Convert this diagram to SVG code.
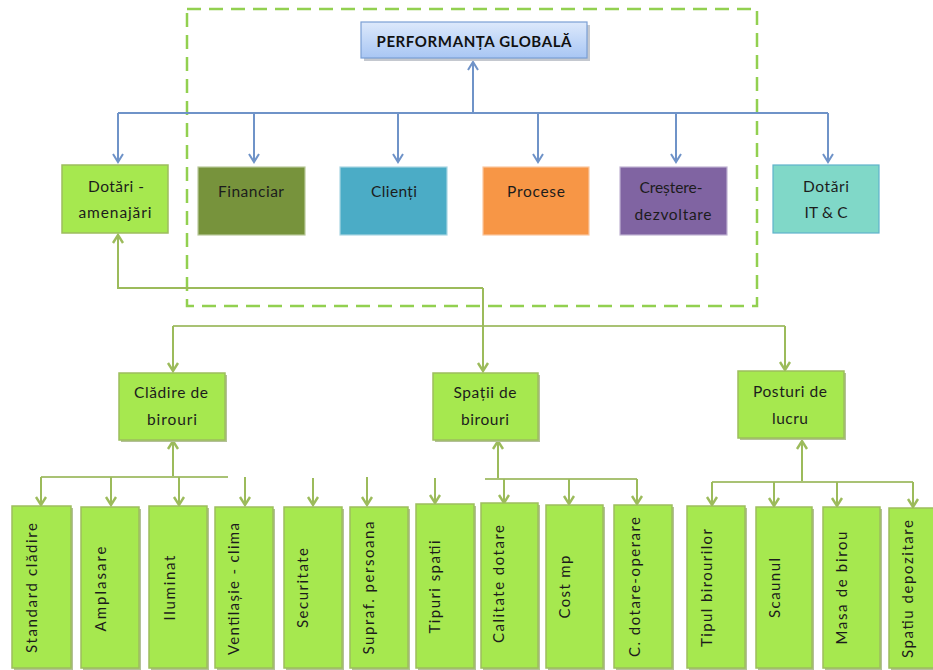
<svg xmlns="http://www.w3.org/2000/svg" width="933" height="670" viewBox="0 0 933 670">
  <style>
    text { font-family: Lato, "Open Sans", "Liberation Sans", sans-serif; fill: #1c1c1c; }
    .t15 { font-size: 15.5px; text-anchor: middle; }
    .t14 { font-size: 15px; text-anchor: middle; }
    .title { font-size: 15px; font-weight: bold; text-anchor: middle; fill: #111; }
    .lime { fill: #a6e84f; stroke: #9dbd5e; stroke-width: 1.5; }
    .shade { fill: #b3c197; }
    .frame { fill: none; stroke: #92d050; stroke-width: 2.5; stroke-dasharray: 14 8; }
    .blue { fill: none; stroke: #6f93c8; stroke-width: 2; marker-end: url(#arrBlue); }
    .blueLine { fill: none; stroke: #6f93c8; stroke-width: 2; }
    .green { fill: none; stroke: #9cbb5b; stroke-width: 2; marker-end: url(#arrGreen); }
    .greenLine { fill: none; stroke: #a9c274; stroke-width: 2; }
  </style>
  <defs>
    <linearGradient id="titleFill" x1="0" y1="0" x2="0" y2="1">
      <stop offset="0" stop-color="#dde9fb"/>
      <stop offset="1" stop-color="#a8c6f4"/>
    </linearGradient>
    <marker id="arrBlue" markerUnits="userSpaceOnUse" markerWidth="14" markerHeight="14" refX="0" refY="0" viewBox="-10 -7 12 14" orient="auto">
      <path d="M-8,-5 L0,0 L-8,5" fill="none" stroke="#6f93c8" stroke-width="2"/>
    </marker>
    <marker id="arrGreen" markerUnits="userSpaceOnUse" markerWidth="14" markerHeight="14" refX="0" refY="0" viewBox="-10 -7 12 14" orient="auto">
      <path d="M-8,-5 L0,0 L-8,5" fill="none" stroke="#9cbb5b" stroke-width="2.4"/>
    </marker>
  </defs>

  <rect width="933" height="670" fill="#ffffff"/>

  <!-- dashed frame round the strategic perspectives -->
  <rect class="frame" x="187" y="9" width="570" height="297"/>

  <!-- connectors -->
  <g id="connectors">
    <!-- blue: perspectives up to the global performance -->
    <line class="blueLine" x1="118" y1="113" x2="828" y2="113"/>
    <line class="blue" x1="473" y1="113" x2="473" y2="62"/>
    <line class="blue" x1="118" y1="113" x2="118" y2="162"/>
    <line class="blue" x1="254" y1="113" x2="254" y2="162"/>
    <line class="blue" x1="398" y1="113" x2="398" y2="162"/>
    <line class="blue" x1="538" y1="113" x2="538" y2="162"/>
    <line class="blue" x1="676" y1="113" x2="676" y2="162"/>
    <line class="blue" x1="828" y1="113" x2="828" y2="162"/>

    <!-- green: office facilities tree -->
    <path class="green" d="M483,288 L118,288 L118,235"/>
    <line class="greenLine" x1="173" y1="326" x2="785" y2="326"/>
    <line class="green" x1="483" y1="288" x2="483" y2="371"/>
    <line class="green" x1="173" y1="326" x2="173" y2="371"/>
    <line class="green" x1="785" y1="326" x2="785" y2="370"/>

    <!-- office building branch -->
    <line class="green" x1="173" y1="477" x2="173" y2="441"/>
    <line class="greenLine" x1="41" y1="477" x2="228" y2="477"/>
    <line class="green" x1="41" y1="477" x2="41" y2="505"/>
    <line class="green" x1="111" y1="477" x2="111" y2="505"/>
    <line class="green" x1="179" y1="477" x2="179" y2="505"/>
    <line class="green" x1="245" y1="477" x2="245" y2="505"/>
    <line class="green" x1="313" y1="478" x2="313" y2="505"/>
    <line class="green" x1="367" y1="477" x2="367" y2="505"/>
    <line class="green" x1="435" y1="478" x2="435" y2="503"/>

    <!-- office space branch -->
    <line class="green" x1="498" y1="479" x2="498" y2="441"/>
    <line class="greenLine" x1="485" y1="479" x2="637" y2="479"/>
    <line class="green" x1="504" y1="479" x2="504" y2="503"/>
    <line class="green" x1="569" y1="479" x2="569" y2="504"/>
    <line class="green" x1="637" y1="479" x2="637" y2="504"/>

    <!-- workstation branch -->
    <line class="green" x1="802" y1="482" x2="802" y2="441"/>
    <line class="greenLine" x1="712" y1="482" x2="913" y2="482"/>
    <line class="green" x1="712" y1="482" x2="712" y2="505"/>
    <line class="green" x1="774" y1="482" x2="774" y2="506"/>
    <line class="green" x1="837" y1="482" x2="837" y2="506"/>
    <line class="green" x1="913" y1="482" x2="913" y2="507"/>
  </g>

  <!-- global performance -->
  <g id="performanta">
    <rect x="364" y="25" width="226" height="36" fill="#c4c8cf"/>
    <rect x="361" y="22" width="226" height="36" fill="url(#titleFill)" stroke="#7b9fd4" stroke-width="1.2"/>
    <text class="title" x="474" y="47" textLength="195">PERFORMANȚA GLOBALĂ</text>
  </g>

  <!-- perspectives -->
  <g id="dotari-amenajari">
    <rect class="lime" x="62" y="165" width="106" height="68"/>
    <text class="t15" x="116" y="192" textLength="56">Dotări -</text>
    <text class="t15" x="115" y="218" textLength="73">amenajări</text>
  </g>
  <g id="financiar">
    <rect x="198" y="167" width="107" height="68" fill="#77933c" stroke="#b9c99a" stroke-width="1.2"/>
    <text class="t15" x="251" y="197" textLength="66">Financiar</text>
  </g>
  <g id="clienti">
    <rect x="340" y="167" width="107" height="68" fill="#4bacc6" stroke="#a9d6e3" stroke-width="1.2"/>
    <text class="t15" x="394" y="197" textLength="46">Clienți</text>
  </g>
  <g id="procese">
    <rect x="483" y="167" width="106" height="68" fill="#f79646" stroke="#fbc79f" stroke-width="1.2"/>
    <text class="t15" x="536" y="197" textLength="58">Procese</text>
  </g>
  <g id="crestere">
    <rect x="620" y="167" width="107" height="68" fill="#8064a2" stroke="#c0b3d2" stroke-width="1.2"/>
    <text class="t15" x="671" y="193" textLength="63">Creștere-</text>
    <text class="t15" x="673" y="220" textLength="77">dezvoltare</text>
  </g>
  <g id="dotari-itc">
    <rect x="773" y="165" width="106" height="68" fill="#80d8c8" stroke="#5fb3cb" stroke-width="1.2"/>
    <text class="t15" x="826" y="192" textLength="46">Dotări</text>
    <text class="t15" x="826" y="218" textLength="43">IT &amp; C</text>
  </g>

  <!-- facility groups -->
  <g id="cladire">
    <rect class="shade" x="121" y="375" width="106" height="67"/>
    <rect class="lime" x="119" y="373" width="106" height="67"/>
    <text class="t15" x="171" y="398" textLength="74">Clădire de</text>
    <text class="t15" x="172" y="425" textLength="50">birouri</text>
  </g>
  <g id="spatii">
    <rect class="shade" x="435" y="375" width="105" height="67"/>
    <rect class="lime" x="433" y="373" width="105" height="67"/>
    <text class="t15" x="485" y="398" textLength="63">Spații de</text>
    <text class="t15" x="485" y="425" textLength="48">birouri</text>
  </g>
  <g id="posturi">
    <rect class="shade" x="740" y="373" width="106" height="67"/>
    <rect class="lime" x="738" y="371" width="106" height="67"/>
    <text class="t15" x="790" y="397" textLength="74">Posturi de</text>
    <text class="t15" x="790" y="424" textLength="36">lucru</text>
  </g>

  <!-- criteria -->
  <g id="standard-cladire">
    <rect class="shade" x="14" y="508" width="59" height="162"/>
    <rect class="lime" x="12" y="506" width="59" height="162"/>
    <text class="t14" transform="translate(37,588) rotate(-90)" textLength="130">Standard clădire</text>
  </g>
  <g id="amplasare">
    <rect class="shade" x="83" y="509" width="58" height="161"/>
    <rect class="lime" x="81" y="507" width="58" height="161"/>
    <text class="t14" transform="translate(106,589) rotate(-90)" textLength="85">Amplasare</text>
  </g>
  <g id="iluminat">
    <rect class="shade" x="151" y="508" width="58" height="162"/>
    <rect class="lime" x="149" y="506" width="58" height="162"/>
    <text class="t14" transform="translate(175,588) rotate(-90)" textLength="65">Iluminat</text>
  </g>
  <g id="ventilatie">
    <rect class="shade" x="217" y="509" width="58" height="161"/>
    <rect class="lime" x="215" y="507" width="58" height="161"/>
    <text class="t14" transform="translate(239,589) rotate(-90)" textLength="132">Ventilașie - clima</text>
  </g>
  <g id="securitate">
    <rect class="shade" x="286" y="509" width="58" height="161"/>
    <rect class="lime" x="284" y="507" width="58" height="161"/>
    <text class="t14" transform="translate(308,588) rotate(-90)" textLength="80">Securitate</text>
  </g>
  <g id="supraf-persoana">
    <rect class="shade" x="352" y="509" width="58" height="161"/>
    <rect class="lime" x="350" y="507" width="58" height="161"/>
    <text class="t14" transform="translate(374,588) rotate(-90)" textLength="133">Supraf. persoana</text>
  </g>
  <g id="tipuri-spatii">
    <rect class="shade" x="418" y="506" width="58" height="164"/>
    <rect class="lime" x="416" y="504" width="58" height="164"/>
    <text class="t14" transform="translate(440,587) rotate(-90)" textLength="93">Tipuri spatii</text>
  </g>
  <g id="calitate-dotare">
    <rect class="shade" x="483" y="505" width="57" height="165"/>
    <rect class="lime" x="481" y="503" width="57" height="165"/>
    <text class="t14" transform="translate(504,584) rotate(-90)" textLength="118">Calitate dotare</text>
  </g>
  <g id="cost-mp">
    <rect class="shade" x="548" y="507" width="57" height="163"/>
    <rect class="lime" x="546" y="505" width="57" height="163"/>
    <text class="t14" transform="translate(570,587) rotate(-90)" textLength="63">Cost mp</text>
  </g>
  <g id="cost-dotare-operare">
    <rect class="shade" x="616" y="507" width="58" height="163"/>
    <rect class="lime" x="614" y="505" width="58" height="163"/>
    <text class="t14" transform="translate(640,587) rotate(-90)" textLength="140">C. dotare-operare</text>
  </g>
  <g id="tipul-birourilor">
    <rect class="shade" x="689" y="508" width="58" height="162"/>
    <rect class="lime" x="687" y="506" width="58" height="162"/>
    <text class="t14" transform="translate(712,588) rotate(-90)" textLength="118">Tipul birourilor</text>
  </g>
  <g id="scaunul">
    <rect class="shade" x="758" y="509" width="56" height="161"/>
    <rect class="lime" x="756" y="507" width="56" height="161"/>
    <text class="t14" transform="translate(780,588) rotate(-90)" textLength="60">Scaunul</text>
  </g>
  <g id="masa-birou">
    <rect class="shade" x="825" y="509" width="57" height="161"/>
    <rect class="lime" x="823" y="507" width="57" height="161"/>
    <text class="t14" transform="translate(847,588) rotate(-90)" textLength="113">Masa de birou</text>
  </g>
  <g id="spatiu-depozitare">
    <rect class="shade" x="891" y="510" width="58" height="160"/>
    <rect class="lime" x="889" y="508" width="58" height="160"/>
    <text class="t14" transform="translate(913,589) rotate(-90)" textLength="138">Spatiu depozitare</text>
  </g>
</svg>
